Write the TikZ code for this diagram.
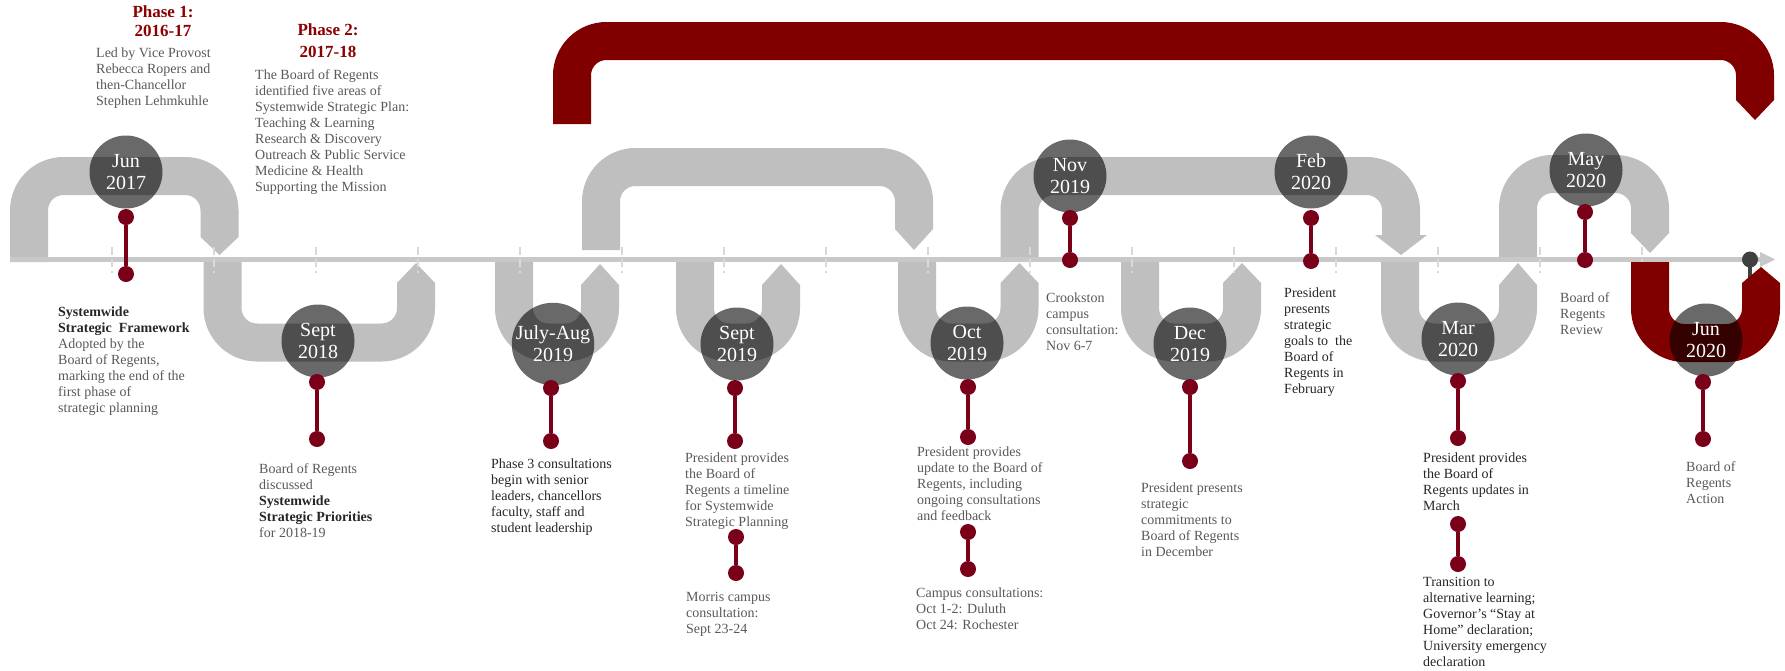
\documentclass[tikz,border=0pt]{standalone}
\usepackage{fontspec}
\setmainfont{Liberation Serif}
\definecolor{pipegray}{HTML}{BFBFBF}
\definecolor{axisgray}{HTML}{C8C8C8}
\definecolor{pipered}{HTML}{800000}
\definecolor{maroon}{HTML}{7A0019}
\definecolor{txtgray}{HTML}{595959}
\definecolor{txtdark}{HTML}{262626}
\definecolor{phasered}{HTML}{8B0000}
\definecolor{enddark}{HTML}{404040}
\tikzset{
  pipe/.style={draw=pipegray, line width=38pt, rounded corners=34.5pt},
  axisline/.style={draw=axisgray, line width=5pt},
  tickmark/.style={draw=gray!30, line width=1.5pt, dash pattern=on 8pt off 4pt},
  month/.style={circle, minimum size=73pt, inner sep=0pt, fill=black, fill opacity=0.59,
    text opacity=1, text=white, align=center, font=\fontsize{20}{22}\selectfont},
  dot/.style={circle, fill=maroon, minimum size=16pt, inner sep=0pt},
  stem/.style={draw=maroon, line width=4.5pt},
  note/.style={anchor=north west, inner sep=0pt, align=left, text=txtgray,
    font=\fontsize{14}{16}\selectfont},
  darknote/.style={note, text=txtdark},
  phase/.style={align=center, inner sep=0pt, text=phasered,
    font=\bfseries\fontsize{17}{19}\selectfont}
}
\newcommand{\pipehead}[4][pipegray]{\fill[#1] (#2-19,#3) -- (#2+19,#3) -- (#2,#4) -- cycle;}
\begin{document}
\begin{tikzpicture}[x=1pt,y=-1pt]
\useasboundingbox (0,0) rectangle (1785,670);
\draw[line width=4.5pt, enddark] (1750,259) -- (1750,285);
% gray loops
\draw[pipe] (29,262) -- (29,176) -- (219.5,176) -- (219.5,237);
\pipehead{219.5}{237}{255}
\draw[pipe] (222.5,259) -- (222.5,342.5) -- (416,342.5) -- (416,283);
\pipehead{416}{283}{263}
\draw[pipe] (514,259) -- (514,342.5) -- (600,342.5) -- (600,285);
\pipehead{600}{285}{264}
\draw[pipe] (601,250) -- (601,167) -- (914,167) -- (914,229);
\pipehead{914}{229}{250}
\draw[pipe] (695,259) -- (695,342.5) -- (781,342.5) -- (781,285);
\pipehead{781}{285}{264}
\draw[pipe] (917,259) -- (917,342.5) -- (1019.5,342.5) -- (1019.5,283);
\pipehead{1019.5}{283}{263}
\draw[pipe] (1019.5,259) -- (1019.5,176) -- (1401,176) -- (1401,236);
\fill[pipegray] (1375,235) -- (1427,235) -- (1401,255) -- cycle;
\draw[pipe] (1140,259) -- (1140,342.5) -- (1242,342.5) -- (1242,283);
\pipehead{1242}{283}{263}
\draw[pipe] (1400,259) -- (1400,342.5) -- (1518,342.5) -- (1518,285);
\pipehead{1518}{285}{263}
\draw[pipe] (1518,259) -- (1518,174) -- (1650,174) -- (1650,233);
\pipehead{1650}{233}{253}
% time axis
\draw[axisline] (10,259.5) -- (1762,259.5);
\fill[axisgray] (1760,252) -- (1775,259.5) -- (1760,267) -- cycle;
\draw[tickmark] (112,247) -- (112,273) (214,247) -- (214,273) (316,247) -- (316,273)
  (418,247) -- (418,273) (520,247) -- (520,273) (622,247) -- (622,273)
  (724,247) -- (724,273) (826,247) -- (826,273) (928,247) -- (928,273)
  (1030,247) -- (1030,273) (1132,247) -- (1132,273) (1234,247) -- (1234,273)
  (1336,247) -- (1336,273) (1438,247) -- (1438,273) (1540,247) -- (1540,273)
  (1642,247) -- (1642,273);
% red loops
\draw[pipe, draw=pipered] (572,124) -- (572,41) -- (1755,41) -- (1755,100);
\pipehead[pipered]{1755}{100}{120}
\draw[pipe, draw=pipered] (1650,262) -- (1650,343) -- (1761,343) -- (1761,283);
\pipehead[pipered]{1761}{283}{267}
% months
\node[month] (jun17) at (126,172) {Jun\\2017};
\node[month] (sep18) at (318,341) {Sept\\2018};
\node[month] (jul19) at (553,344) {July-Aug\\2019};
\node[month] (sep19) at (737,344) {Sept\\2019};
\node[month] (oct19) at (967,343) {Oct\\2019};
\node[month] (nov19) at (1070,176) {Nov\\2019};
\node[month] (dec19) at (1190,344) {Dec\\2019};
\node[month] (feb20) at (1311,172) {Feb\\2020};
\node[month] (mar20) at (1458,339) {Mar\\2020};
\node[month] (may20) at (1586,170) {May\\2020};
\node[month] (jun20) at (1706,340) {Jun\\2020};
% markers
\node[dot] (jun17a) at (126,217) {};
\node[dot] (jun17b) at (126,274) {};
\node[dot] (sep18a) at (317,382) {};
\node[dot] (sep18b) at (317,439) {};
\node[dot] (jul19a) at (551,388) {};
\node[dot] (jul19b) at (551,441) {};
\node[dot] (sep19a) at (735,388) {};
\node[dot] (sep19b) at (735,441) {};
\node[dot] (sep19c) at (736,537) {};
\node[dot] (sep19d) at (736,573) {};
\node[dot] (oct19a) at (968,387) {};
\node[dot] (oct19b) at (968,437) {};
\node[dot] (oct19c) at (968,532) {};
\node[dot] (oct19d) at (968,569) {};
\node[dot] (nov19a) at (1070,218) {};
\node[dot] (nov19b) at (1070,260) {};
\node[dot] (dec19a) at (1190,387) {};
\node[dot] (dec19b) at (1190,461) {};
\node[dot] (feb20a) at (1311,218) {};
\node[dot] (feb20b) at (1311,261) {};
\node[dot] (mar20a) at (1458,381) {};
\node[dot] (mar20b) at (1458,438) {};
\node[dot] (mar20c) at (1458,524) {};
\node[dot] (mar20d) at (1458,564) {};
\node[dot] (may20a) at (1585,212) {};
\node[dot] (may20b) at (1585,260) {};
\node[dot] (jun20a) at (1703,382) {};
\node[dot] (jun20b) at (1703,439) {};
\draw[stem] (jun17a) -- (jun17b);
\draw[stem] (sep18a) -- (sep18b);
\draw[stem] (jul19a) -- (jul19b);
\draw[stem] (sep19a) -- (sep19b);
\draw[stem] (sep19c) -- (sep19d);
\draw[stem] (oct19a) -- (oct19b);
\draw[stem] (oct19c) -- (oct19d);
\draw[stem] (nov19a) -- (nov19b);
\draw[stem] (dec19a) -- (dec19b);
\draw[stem] (feb20a) -- (feb20b);
\draw[stem] (mar20a) -- (mar20b);
\draw[stem] (mar20c) -- (mar20d);
\draw[stem] (may20a) -- (may20b);
\draw[stem] (jun20a) -- (jun20b);
\node[circle, fill=enddark, minimum size=16pt, inner sep=0pt] (axisend) at (1750,259.5) {};
% phases
\node[phase] (phase1) at (163,21.5) {Phase 1:\\2016-17};
\node[phase] (phase2) at (328,41) {Phase 2:\\[3pt]2017-18};
\node[note] (phase1txt) at (96,48) {Led by Vice Provost\\Rebecca Ropers and\\then-Chancellor\\Stephen Lehmkuhle};
\node[note] (phase2txt) at (255,69) {The Board of Regents\\identified five areas of\\Systemwide Strategic Plan:\\Teaching \& Learning\\Research \& Discovery\\Outreach \& Public Service\\Medicine \& Health\\Supporting the Mission};
% notes
\node[note] (jun17txt) at (58,307) {\textbf{\textcolor{txtdark}{Systemwide}}\\\textbf{\textcolor{txtdark}{Strategic~ Framework}}\\Adopted by the\\Board of Regents,\\marking the end of the\\first phase of\\strategic planning};
\node[note] (sep18txt) at (259,463) {Board of Regents\\discussed\\\textbf{\textcolor{txtdark}{Systemwide}}\\\textbf{\textcolor{txtdark}{Strategic Priorities}}\\for 2018-19};
\node[darknote] (jul19txt) at (491,459) {Phase 3 consultations\\begin with senior\\leaders, chancellors\\faculty, staff and\\student leadership};
\node[note] (sep19txt) at (685,453) {President provides\\the Board of\\Regents a timeline\\for Systemwide\\Strategic Planning};
\node[note] (sep19more) at (686,592) {Morris campus\\consultation:\\Sept 23-24};
\node[note] (oct19txt) at (917,447) {President provides\\update to the Board of\\Regents, including\\ongoing consultations\\and feedback};
\node[note] (oct19more) at (916,588) {Campus consultations:\\Oct 1-2: Duluth\\Oct 24: Rochester};
\node[note] (nov19txt) at (1046,293) {Crookston\\campus\\consultation:\\Nov 6-7};
\node[note] (dec19txt) at (1141,483) {President presents\\strategic\\commitments to\\Board of Regents\\in December};
\node[darknote] (feb20txt) at (1284,288) {President\\presents\\strategic\\goals to~ the\\Board of\\Regents in\\February};
\node[darknote] (mar20txt) at (1423,453) {President provides\\the Board of\\Regents updates in\\March};
\node[darknote] (mar20more) at (1423,577) {Transition to\\alternative learning;\\Governor’s “Stay at\\Home” declaration;\\University emergency\\declaration};
\node[note] (may20txt) at (1560,292) {Board of\\Regents\\Review};
\node[note] (jun20txt) at (1686,461) {Board of\\Regents\\Action};
\end{tikzpicture}
\end{document}
